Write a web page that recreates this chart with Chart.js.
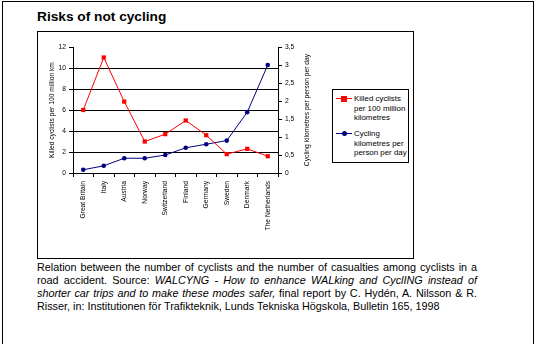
<!DOCTYPE html>
<html>
<head>
<meta charset="utf-8">
<script src="https://cdn.jsdelivr.net/npm/chart.js@4/dist/chart.umd.min.js"></script>
<style>
  html, body { margin: 0; padding: 0; background: #fff; }
  body { width: 535px; height: 344px; position: relative; overflow: hidden; font-family: Arial, "Liberation Sans", sans-serif; color: #000; }
  .page { position: absolute; left: 2px; top: 1px; width: 532px; height: 400px; box-sizing: border-box; border: 1px solid #000; border-bottom: none; }
  .title { position: absolute; left: 37px; top: 10px; font-size: 13.7px; line-height: 13.7px; font-weight: bold; }
  .frame { position: absolute; left: 37px; top: 31px; width: 377px; height: 228px; box-sizing: border-box; border: 1px solid #000; }
  #chart { position: absolute; left: 38px; top: 32px; }
  .legend { position: absolute; left: 332px; top: 89px; width: 77px; height: 74px; box-sizing: border-box; border: 1px solid #000; font-size: 7.9px; line-height: 9.5px; }
  .legend .item { position: absolute; left: 0; width: 100%; }
  .legend .mark { position: absolute; left: 3px; width: 16px; height: 1px; top: 4px; }
  .legend .mark span { position: absolute; left: 5px; }
  .legend .txt { position: absolute; left: 21px; top: 0; white-space: nowrap; }
  .caption { position: absolute; left: 37px; top: 261px; width: 440px; font-size: 10.8px; line-height: 13px; text-align: justify; }
</style>
</head>
<body>
<div class="page"></div>
<div class="title">Risks of not cycling</div>
<div class="frame"></div>
<canvas id="chart" width="294" height="225"></canvas>
<div class="legend" id="legend"></div>
<div class="caption">Relation between the number of cyclists and the number of casualties among cyclists in a road accident. Source: <i>WALCYNG - How to enhance WALking and CyclING instead of shorter car trips and to make these modes safer,</i> final report by C. Hydén, A. Nilsson &amp; R. Risser, in: Institutionen för Trafikteknik, Lunds Tekniska Högskola, Bulletin 165, 1998</div>

<script>
// data
const countries = ['Great Britain', 'Italy', 'Austria', 'Norway', 'Switzerland', 'Finland', 'Germany', 'Sweden', 'Denmark', 'The Netherlands'];
const killedPer100MillionKm = [6, 11, 6.8, 3, 3.7, 5, 3.6, 1.8, 2.3, 1.6];
const kmPerPersonPerDay = [0.09, 0.2, 0.41, 0.41, 0.5, 0.7, 0.8, 0.9, 1.69, 3.0];
const leftTicks = [0, 2, 4, 6, 8, 10, 12];
const rightTicks = [0, 0.5, 1, 1.5, 2, 2.5, 3, 3.5];
const seriesNames = [
    ['Killed cyclists', 'per 100 million', 'kilometres'],
    ['Cycling', 'kilometres per', 'person per day']
];
const leftTitle = 'Killed cyclists per 100 million km';
const rightTitle = 'Cycling kilometres per person per day';

const FONT = 'Arial, "Liberation Sans", sans-serif';
const RED = '#ff0000';
const NAVY = '#000080';

// right axis title reads bottom-to-top in the original, so draw it by hand
const rightTitlePlugin = {
    id: 'rightTitle',
    afterDraw(chart) {
        const s = chart.scales.y1;
        const area = chart.chartArea;
        const ctx = chart.ctx;
        ctx.save();
        ctx.translate(s.left + 29, (area.top + area.bottom) / 2);
        ctx.rotate(-Math.PI / 2);
        ctx.font = '6.7px ' + FONT;
        ctx.fillStyle = '#000';
        ctx.textAlign = 'center';
        ctx.textBaseline = 'middle';
        ctx.fillText(rightTitle, 0, 0);
        ctx.restore();
    }
};

const chart = new Chart(document.getElementById('chart'), {
    type: 'line',
    data: {
        labels: countries,
        datasets: [
            {
                label: seriesNames[0].join(' '),
                data: killedPer100MillionKm,
                yAxisID: 'y',
                borderColor: RED,
                backgroundColor: RED,
                borderWidth: 1,
                pointStyle: 'rect',
                pointRadius: 3,
                pointBorderWidth: 0,
                tension: 0
            },
            {
                label: seriesNames[1].join(' '),
                data: kmPerPersonPerDay,
                yAxisID: 'y1',
                borderColor: NAVY,
                backgroundColor: NAVY,
                borderWidth: 1,
                pointStyle: 'circle',
                pointRadius: 2.3,
                pointBorderWidth: 0,
                tension: 0
            }
        ]
    },
    options: {
        responsive: false,
        animation: false,
        devicePixelRatio: 1,
        layout: { padding: { top: 15, left: 0, right: 0, bottom: 0 } },
        plugins: {
            legend: { display: false },
            tooltip: { enabled: false }
        },
        scales: {
            x: {
                type: 'category',
                offset: true,
                grid: { offset: true, drawOnChartArea: false, tickLength: 4, color: '#000' },
                border: { color: '#000', width: 1 },
                ticks: {
                    autoSkip: false,
                    minRotation: 90,
                    maxRotation: 90,
                    padding: 4,
                    color: '#000',
                    font: { family: FONT, size: 6.7 }
                },
                afterFit: s => { s.height = 84; }
            },
            y: {
                position: 'left',
                min: leftTicks[0],
                max: leftTicks[leftTicks.length - 1],
                afterBuildTicks: s => { s.ticks = leftTicks.map(v => ({ value: v })); },
                grid: {
                    color: c => (c.tick && c.tick.value > 0 && c.tick.value < 12) ? '#000' : 'rgba(0,0,0,0)',
                    tickColor: '#000',
                    tickLength: 4
                },
                border: { color: '#000', width: 1 },
                ticks: { color: '#000', padding: 3, font: { family: FONT, size: 6.7 } },
                title: {
                    display: true,
                    text: leftTitle,
                    color: '#000',
                    font: { family: FONT, size: 6.7 },
                    padding: { top: 10, bottom: 0 }
                },
                afterFit: s => { s.width = 35; }
            },
            y1: {
                position: 'right',
                min: rightTicks[0],
                max: rightTicks[rightTicks.length - 1],
                afterBuildTicks: s => { s.ticks = rightTicks.map(v => ({ value: v })); },
                grid: { drawOnChartArea: false, color: '#000', tickLength: 4 },
                border: { color: '#000', width: 1 },
                ticks: {
                    color: '#000',
                    padding: 3,
                    font: { family: FONT, size: 6.7 },
                    callback: v => String(v).replace('.', ',')
                },
                afterFit: s => { s.width = 54; }
            }
        }
    },
    plugins: [rightTitlePlugin]
});

// html legend built from the datasets
const legend = document.getElementById('legend');
const tops = [4, 39];
chart.data.datasets.forEach((ds, i) => {
    const item = document.createElement('div');
    item.className = 'item';
    item.style.top = tops[i] + 'px';
    const mark = document.createElement('div');
    mark.className = 'mark';
    mark.style.background = ds.borderColor;
    const dot = document.createElement('span');
    if (ds.pointStyle === 'rect') {
        dot.style.cssText = 'top:-2.5px;width:6px;height:6px;background:' + ds.borderColor;
    } else {
        dot.style.cssText = 'top:-2px;left:6px;width:5px;height:5px;border-radius:50%;background:' + ds.borderColor;
    }
    mark.appendChild(dot);
    const txt = document.createElement('div');
    txt.className = 'txt';
    txt.innerHTML = seriesNames[i].join('<br>');
    item.appendChild(mark);
    item.appendChild(txt);
    legend.appendChild(item);
});
</script>
</body>
</html>
